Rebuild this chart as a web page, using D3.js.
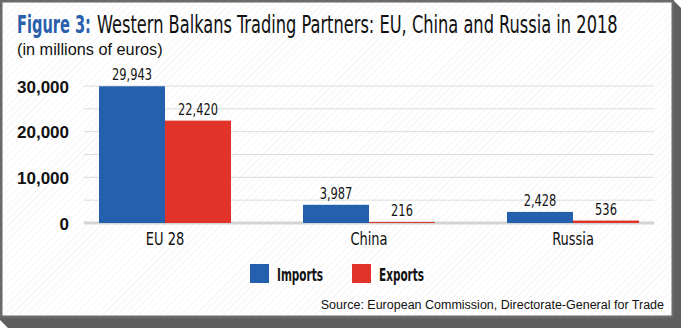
<!DOCTYPE html>
<html>
<head>
<meta charset="utf-8">
<script src="https://cdn.jsdelivr.net/npm/d3@7"></script>
<style>
  body { margin: 0; background: #fff; }
  .cond { font-family: "Liberation Sans Narrow", "DejaVu Sans Condensed", "DejaVu Sans", sans-serif; font-stretch: condensed; }
  .plain { font-family: "Liberation Sans", Arial, sans-serif; }
</style>
</head>
<body>
<svg id="canvas"></svg>
<script>
// data
let categories = ['EU 28', 'China', 'Russia']
let imports = [29943, 3987, 2428]
let exports = [22420, 216, 536]
let seriesNames = ['Imports', 'Exports']
let yTicks = [0, 10000, 20000, 30000]
let gridTicks = [0, 5000, 10000, 15000, 20000, 25000, 30000]

let width = 681
let height = 328
let colors = { Imports: '#2460ad', Exports: '#e1332a' }

let canvas = d3.select('#canvas').attr('width', width).attr('height', height)

// the original font is narrower than what we have, so squeeze text horizontally
// x, y go in the transform so that the scale does not move the anchor point
let placeText = (sel, x, y, k) => {
    sel.attr('x', 0).attr('y', 0)
       .attr('transform', 'translate(' + x + ',' + y + ') scale(' + k + ',1)')
}
let fitText = (sel, x, y, target) => {
    let w = sel.node().getComputedTextLength()
    placeText(sel, x, y, target / w)
}

// hatch pattern for the background
let defs = canvas.append('defs')
let pat = defs.append('pattern')
    .attr('id', 'hatch')
    .attr('width', 5).attr('height', 5)
    .attr('patternUnits', 'userSpaceOnUse')
    .attr('patternTransform', 'rotate(45)')
pat.append('rect').attr('width', 5).attr('height', 5).attr('fill', '#ffffff')
pat.append('line').attr('x1', 0).attr('y1', 0).attr('x2', 0).attr('y2', 5)
    .attr('stroke', '#ececec').attr('stroke-width', 1)

// frame + shadow
canvas.append('polygon')
    .attr('points', '673,0 681,8 681,328 8,328 0,320 0,317 673,317')
    .attr('fill', '#5f5f5f')
canvas.append('rect')
    .attr('x', 1.25).attr('y', 1.25).attr('width', 671.5).attr('height', 315.5)
    .attr('fill', 'url(#hatch)')
    .attr('stroke', '#6a6a6a').attr('stroke-width', 2.5)

// title
canvas.append('text')
    .attr('class', 'cond')
    .attr('font-size', 24)
    .attr('font-weight', 'bold')
    .attr('fill', '#2a5fac')
    .text('Figure 3:')
    .call(fitText, 17, 33, 74)
canvas.append('text')
    .attr('class', 'cond')
    .attr('font-size', 24)
    .attr('fill', '#111')
    .text('Western Balkans Trading Partners: EU, China and Russia in 2018')
    .call(fitText, 97, 33, 521)

canvas.append('text')
    .attr('class', 'plain')
    .attr('x', 17).attr('y', 55)
    .attr('font-size', 16.3)
    .attr('fill', '#111')
    .text('(in millions of euros)')

// scales
let xScale = d3.scaleBand()
    .domain(categories)
    .range([63, 675])
    .paddingInner(0.353)
    .paddingOuter(0.1765)

let xInner = d3.scaleBand()
    .domain(seriesNames)
    .range([0, xScale.bandwidth()])

let yScale = d3.scaleLinear()
    .domain([0, 30000])
    .range([223, 86])

// gridlines
canvas.append('g')
    .selectAll('line')
    .data(gridTicks)
    .enter()
    .append('line')
    .attr('x1', 84).attr('x2', 654)
    .attr('y1', (d) => yScale(d))
    .attr('y2', (d) => yScale(d))
    .attr('stroke', (d) => d === 0 ? '#d4d4d4' : '#dcdcdc')
    .attr('stroke-width', (d) => d === 0 ? 3 : 1)

// y axis labels
let yAxis = d3.axisLeft(yScale)
    .tickValues(yTicks)
    .tickFormat(d3.format(','))
    .tickSize(0)
    .tickPadding(0)
let yG = canvas.append('g')
    .attr('transform', 'translate(69, 0)')
    .call(yAxis)
yG.select('.domain').remove()
yG.selectAll('text')
    .attr('font-family', '"Liberation Sans", Arial, sans-serif')
    .attr('font-weight', 'bold')
    .attr('font-size', 17)
    .attr('fill', '#111')
    .attr('dy', '0.36em')

// bars
let rows = categories.map((c, i) => ({ category: c, Imports: imports[i], Exports: exports[i] }))

let groups = canvas.append('g')
    .selectAll('g')
    .data(rows)
    .enter()
    .append('g')
    .attr('transform', (d) => 'translate(' + xScale(d.category) + ',0)')

let bars = groups.selectAll('g')
    .data((d) => seriesNames.map((s) => ({ series: s, value: d[s] })))
    .enter()
    .append('g')

bars.append('rect')
    .attr('x', (d) => xInner(d.series))
    .attr('width', xInner.bandwidth())
    .attr('y', (d) => yScale(d.value))
    .attr('height', (d) => yScale(0) - yScale(d.value))
    .attr('fill', (d) => colors[d.series])

bars.append('text')
    .attr('class', 'cond')
    .attr('text-anchor', 'middle')
    .attr('font-size', 15.5)
    .attr('fill', '#111')
    .text((d) => d3.format(',')(d.value))
    .each(function (d) {
        placeText(d3.select(this), xInner(d.series) + xInner.bandwidth() / 2, yScale(d.value) - 6, 0.82)
    })

// x axis labels
let xAxis = d3.axisBottom(xScale).tickSize(0).tickPadding(0)
let xG = canvas.append('g')
    .attr('transform', 'translate(0, 245)')
    .call(xAxis)
xG.select('.domain').remove()
xG.selectAll('text')
    .attr('class', 'cond')
    .attr('font-family', null)
    .attr('font-size', 17)
    .attr('fill', '#111')
    .attr('dy', 0)
    .each(function () { placeText(d3.select(this), 0, 0, 0.85) })

// legend
let legendX = [250, 352]
let legendW = [46, 45]
let legend = canvas.append('g')
    .selectAll('g')
    .data(seriesNames)
    .enter()
    .append('g')
    .attr('transform', (d, i) => 'translate(' + legendX[i] + ', 264)')
legend.append('rect')
    .attr('width', 19).attr('height', 19)
    .attr('fill', (d) => colors[d])
legend.append('text')
    .attr('class', 'cond')
    .attr('font-size', 18)
    .attr('font-weight', 'bold')
    .attr('fill', '#111')
    .text((d) => d)
    .each(function (d, i) { fitText(d3.select(this), 27, 17, legendW[i]) })

// source
canvas.append('text')
    .attr('class', 'plain')
    .attr('x', 664).attr('y', 309)
    .attr('text-anchor', 'end')
    .attr('font-size', 12.5)
    .attr('fill', '#111')
    .text('Source: European Commission, Directorate-General for Trade')
</script>
</body>
</html>
